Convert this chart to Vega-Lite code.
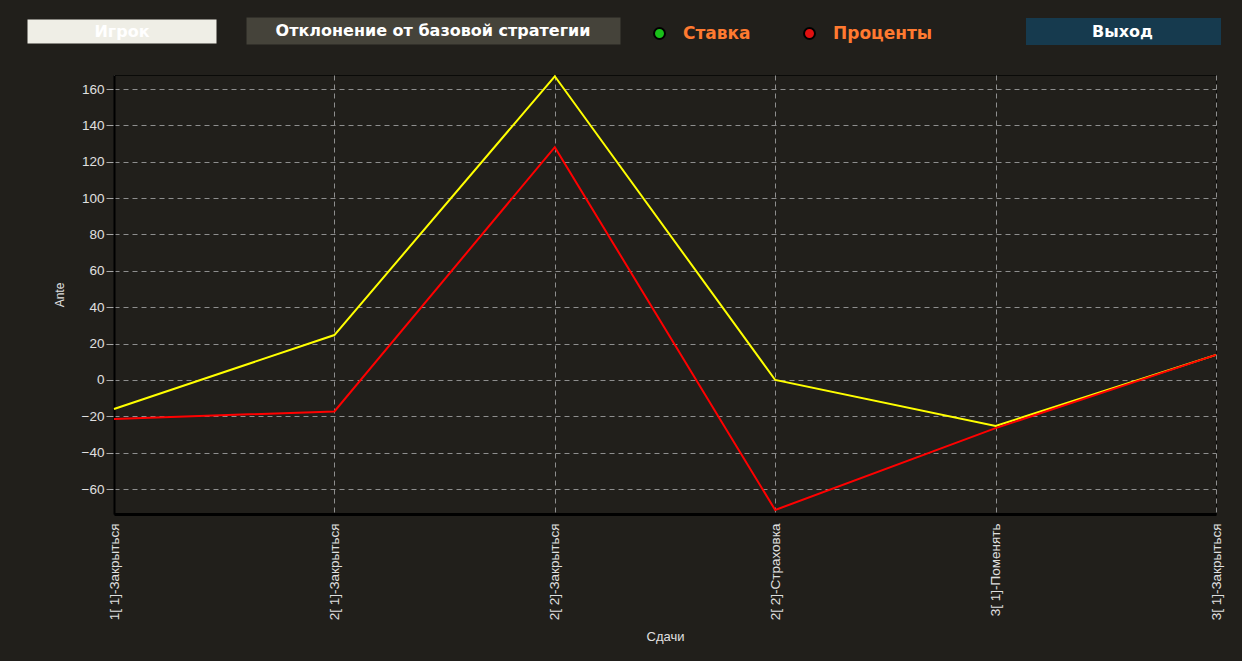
{
  "$schema": "https://vega.github.io/schema/vega-lite/v6.json",
  "autosize": {"type": "none"},
  "width": 1102,
  "height": 439,
  "padding": {"left": 114, "top": 75, "right": 26, "bottom": 147},
  "background": "#211f1b",
  "config": {
    "view": {"stroke": "#0a0a08", "strokeWidth": 1, "fill": "#211f1b"},
    "font": "Liberation Sans",
    "axisX": {
      "labelAngle": -90, "labelColor": "#e0e0e0", "labelFontSize": 13.5, "labelPadding": 9, "labelLimit": 300,
      "ticks": false, "domainColor": "#000000", "domainWidth": 3,
      "grid": true, "gridColor": "#8e8e8e", "gridDash": [5, 4], "gridWidth": 1,
      "titleColor": "#e0e0e0", "titleFontSize": 13, "titleFontWeight": "normal", "titleX": 551, "titleY": 116
    },
    "axisY": {
      "labelOverlap": false, "labelColor": "#e0e0e0", "labelFontSize": 13.5, "labelPadding": 2,
      "tickColor": "#a8a8a8", "tickSize": 8, "domainColor": "#000000", "domainWidth": 2,
      "grid": true, "gridColor": "#8e8e8e", "gridDash": [5, 4], "gridWidth": 1,
      "titleColor": "#e0e0e0", "titleFontSize": 12, "titleFontWeight": "normal", "titleX": -48, "titleY": 219.5
    }
  },
  "datasets": {
    "series": [
      {"deal": "1[ 1]-Закрыться", "series": "Ставка", "value": -16},
      {"deal": "2[ 1]-Закрыться", "series": "Ставка", "value": 24.7},
      {"deal": "2[ 2]-Закрыться", "series": "Ставка", "value": 167},
      {"deal": "2[ 2]-Страховка", "series": "Ставка", "value": 0},
      {"deal": "3[ 1]-Поменять", "series": "Ставка", "value": -25.3},
      {"deal": "3[ 1]-Закрыться", "series": "Ставка", "value": 13.8},
      {"deal": "1[ 1]-Закрыться", "series": "Проценты", "value": -21.4},
      {"deal": "2[ 1]-Закрыться", "series": "Проценты", "value": -17.3},
      {"deal": "2[ 2]-Закрыться", "series": "Проценты", "value": 128},
      {"deal": "2[ 2]-Страховка", "series": "Проценты", "value": -71.5},
      {"deal": "3[ 1]-Поменять", "series": "Проценты", "value": -26.5},
      {"deal": "3[ 1]-Закрыться", "series": "Проценты", "value": 13.8}
    ]
  },
  "layer": [
    {
      "data": {"name": "series"},
      "transform": [{"filter": "datum.series === 'Ставка'"}],
      "mark": {"type": "line", "strokeWidth": 2},
      "encoding": {
        "x": {
          "field": "deal", "type": "nominal", "sort": null,
          "scale": {"type": "point", "padding": 0},
          "axis": {"title": "Сдачи"}
        },
        "y": {
          "field": "value", "type": "quantitative",
          "scale": {"domain": [-73.7, 167.7], "nice": false, "zero": false},
          "axis": {"title": "Ante", "values": [-60, -40, -20, 0, 20, 40, 60, 80, 100, 120, 140, 160]}
        },
        "stroke": {
          "field": "series", "type": "nominal",
          "scale": {"domain": ["Ставка", "Проценты"], "range": ["#ffff00", "#ff0000"]},
          "legend": null
        }
      }
    },
    {
      "data": {"name": "series"},
      "transform": [{"filter": "datum.series === 'Проценты'"}],
      "mark": {"type": "line", "strokeWidth": 2},
      "encoding": {
        "x": {"field": "deal", "type": "nominal", "sort": null, "axis": {"title": "Сдачи"}},
        "y": {"field": "value", "type": "quantitative", "axis": {"title": "Ante", "values": [-60, -40, -20, 0, 20, 40, 60, 80, 100, 120, 140, 160]}},
        "stroke": {"field": "series", "type": "nominal", "legend": null}
      }
    },
    {
      "data": {"values": [{"led": "Ставка"}, {"led": "Проценты"}]},
      "mark": {"type": "point", "filled": true, "size": 0},
      "encoding": {
        "color": {
          "field": "led", "type": "nominal", "sort": null,
          "scale": {"domain": ["Ставка", "Проценты"], "range": ["#19c019", "#e01010"]},
          "legend": {
            "title": null, "orient": "none", "legendX": 537, "legendY": -50, "direction": "horizontal", "columns": 2,
            "columnPadding": 49, "symbolType": "circle", "symbolSize": 120, "symbolOpacity": 1,
            "symbolStrokeColor": "#000000", "symbolStrokeWidth": 2, "labelOffset": 15,
            "labelColor": "#ff7a30", "labelFont": "DejaVu Sans", "labelFontWeight": "bold", "labelFontSize": 17
          }
        }
      }
    },
    {
      "data": {"values": [{"btn": "Игрок"}]},
      "mark": {"type": "point", "opacity": 0, "filled": true, "color": "#efeee6"},
      "encoding": {
        "shape": {
          "field": "btn", "type": "nominal",
          "scale": {"range": ["M-1,-0.127H1V0.127H-1Z"]},
          "legend": {
            "title": null, "orient": "none", "legendX": -87, "legendY": -138.5, "padding": 0, "labelLimit": 600,
            "symbolSize": 35721, "symbolOpacity": 1, "symbolFillColor": "#efeee6", "symbolStrokeColor": "#d4d3cb", "symbolStrokeWidth": 1,
            "labelAlign": "center", "labelOffset": -95,
            "labelColor": "#ffffff", "labelFont": "DejaVu Sans", "labelFontWeight": "bold", "labelFontSize": 16
          }
        }
      }
    },
    {
      "data": {"values": [{"btn": "Отклонение от базовой стратегии"}]},
      "mark": {"type": "point", "opacity": 0, "filled": true, "color": "#45433a"},
      "encoding": {
        "shape": {
          "field": "btn", "type": "nominal",
          "scale": {"range": ["M-1,-0.0722H1V0.0722H-1Z"]},
          "legend": {
            "title": null, "orient": "none", "legendX": 132, "legendY": -231.5, "padding": 0, "labelLimit": 600,
            "symbolSize": 139876, "symbolOpacity": 1, "symbolFillColor": "#45433a", "symbolStrokeColor": "#45433a", "symbolStrokeWidth": 1,
            "labelAlign": "center", "labelOffset": -188,
            "labelColor": "#ffffff", "labelFont": "DejaVu Sans", "labelFontWeight": "bold", "labelFontSize": 16
          }
        }
      }
    },
    {
      "data": {"values": [{"btn": "Выход"}]},
      "mark": {"type": "point", "opacity": 0, "filled": true, "color": "#163a4e"},
      "encoding": {
        "shape": {
          "field": "btn", "type": "nominal",
          "scale": {"range": ["M-1,-0.138H1V0.138H-1Z"]},
          "legend": {
            "title": null, "orient": "none", "legendX": 911, "legendY": -142, "padding": 0, "labelLimit": 600,
            "symbolSize": 38025, "symbolOpacity": 1, "symbolFillColor": "#163a4e", "symbolStrokeColor": "#8c8c8c", "symbolStrokeWidth": 2,
            "labelAlign": "center", "labelOffset": -99.5,
            "labelColor": "#ffffff", "labelFont": "DejaVu Sans", "labelFontWeight": "bold", "labelFontSize": 16
          }
        }
      }
    }
  ],
  "resolve": {
    "scale": {"shape": "independent", "color": "independent"},
    "legend": {"shape": "independent", "color": "independent"}
  }
}
